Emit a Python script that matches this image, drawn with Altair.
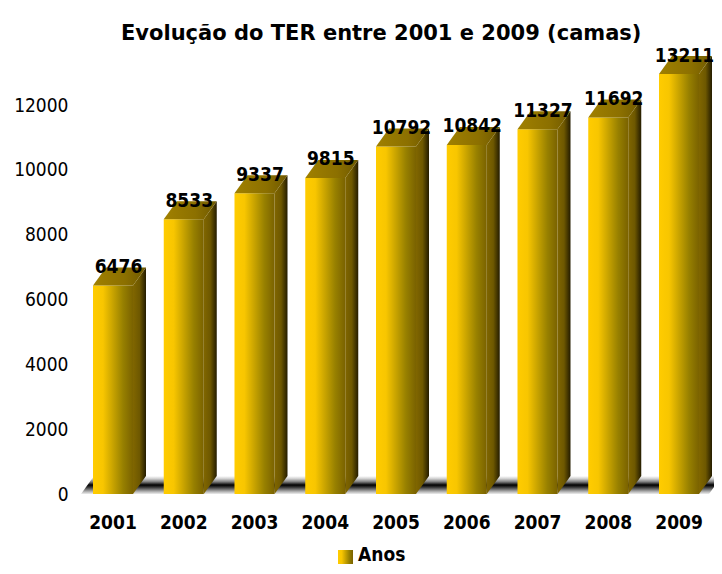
import altair as alt
import pandas as pd

years = ["2001", "2002", "2003", "2004", "2005", "2006", "2007", "2008", "2009"]
labels = [6476, 8533, 9337, 9815, 10792, 10842, 11327, 11692, 13211]
bar_heights = [6476, 8533, 9337, 9815, 10792, 10842, 11327, 11692, 13043]
y_ticks = [0, 2000, 4000, 6000, 8000, 10000, 12000]

FONT = "DejaVu Sans Condensed"
W, H = 706, 518
PX_X, PX_Y = 70.75, 0.0322
XD = [(8 - 93) / PX_X, (714 - 93) / PX_X]
YD = [(494 - 566) / PX_Y, (494 - 48) / PX_Y]
BW, DX, DY = 40 / PX_X, 13 / PX_X, 18 / PX_Y


def grad(stops, vertical=False):
    return alt.Gradient(
        gradient="linear",
        stops=[alt.GradientStop(color=c, offset=o) for o, c in stops],
        x1=0, y1=0, x2=0 if vertical else 1, y2=1 if vertical else 0,
    )


xs = alt.Scale(domain=XD, range=[0, W], nice=False, zero=False)
ys = alt.Scale(domain=YD, range=[H, 0], nice=False, zero=False)
X = lambda f: alt.X(f, type="quantitative", scale=xs, axis=None)
Y = lambda f: alt.Y(f, type="quantitative", scale=ys, axis=None)

front, side, top = [], [], []
for i, (yr, h) in enumerate(zip(years, bar_heights)):
    front.append(dict(year=yr, x=i, x2=i + BW, y=0, y2=h))
    side.append(dict(year=yr, x=i + BW, y=h, y2=0))
    side.append(dict(year=yr, x=i + BW + DX, y=h + DY, y2=DY))
    top.append(dict(year=yr, x=i, x2=i + BW, y=h))
    top.append(dict(year=yr, x=i + DX, x2=i + BW + DX, y=h + DY))
front, side, top = map(pd.DataFrame, (front, side, top))
text_df = pd.DataFrame(dict(
    x=[i + (BW + DX) / 2 - 1 / PX_X for i in range(9)],
    y=[h + 18.5 / PX_Y for h in bar_heights],
    label=[str(v) for v in labels],
))
floor_df = pd.DataFrame([
    dict(x=-12 / PX_X, x2=(709 - 93) / PX_X, y=0),
    dict(x=-12 / PX_X + DX, x2=(722 - 93) / PX_X, y=DY),
])

floor = alt.Chart(floor_df).mark_area(
    orient="horizontal",
    color=grad([(0, "#ffffff"), (0.15, "#d0d0d0"), (0.32, "#808080"), (0.5, "#000000"),
                (0.62, "#333333"), (0.85, "#aaaaaa"), (1, "#eeeeee")], vertical=True),
).encode(x=X("x"), x2="x2", y=Y("y"))

FRONT = [(0, "#ffcc00"), (0.25, "#f8c600"), (0.75, "#978000"), (1, "#7a6200")]
front_m = alt.Chart(front).mark_rect(color=grad(FRONT)).encode(x=X("x"), x2="x2", y=Y("y"), y2="y2")

side_m = alt.Chart(side).mark_area(
    orient="vertical",
    color=grad([(0, "#806600"), (0.5, "#6e5800"), (1, "#241c00")]),
).encode(x=X("x"), y=Y("y"), y2="y2", detail="year:N")

top_m = alt.Chart(top).mark_area(
    orient="horizontal",
    color=grad([(0, "#a08000"), (0.6, "#8c7000"), (1, "#6e5800")]),
).encode(x=X("x"), x2="x2", y=Y("y"), detail="year:N")

values = alt.Chart(text_df).mark_text(
    font=FONT, fontWeight="bold", fontSize=19, color="#000000", baseline="middle"
).encode(x=X("x"), y=Y("y"), text="label:N")

x_axis = alt.Chart(pd.DataFrame(dict(year=years))).mark_point(opacity=0).encode(
    x=alt.X("year:O", scale=alt.Scale(type="band", domain=years, range=[69.6, 706.4]),
            axis=alt.Axis(orient="bottom", title=None, domain=False, ticks=False, grid=False, labelAngle=0,
                          offset=-44, labelPadding=0, labelFont=FONT, labelFontWeight="bold",
                          labelFontSize=19, labelColor="#000000", labelBaseline="middle"))
)
y_axis = alt.Chart(pd.DataFrame(dict(v=y_ticks))).mark_point(opacity=0).encode(
    y=alt.Y("v:Q", scale=alt.Scale(domain=[0, 12000], range=[446, 57], nice=False),
            axis=alt.Axis(orient="left", title=None, domain=False, ticks=False, grid=False, values=y_ticks,
                          offset=-60, labelPadding=0, labelFont=FONT, labelFontSize=19,
                          labelColor="#000000", format="d"))
)

swatch = alt.Chart(pd.DataFrame([dict(x=(338 - 93) / PX_X, x2=(353 - 93) / PX_X, y=(494 - 564) / PX_Y, y2=(494 - 550) / PX_Y)])).mark_rect(
    color=grad(FRONT)
).encode(x=X("x"), x2="x2", y=Y("y"), y2="y2")
legend_text = alt.Chart(pd.DataFrame([dict(x=(358 - 93) / PX_X, y=(494 - 555) / PX_Y, t="Anos")])).mark_text(
    font=FONT, fontWeight="bold", fontSize=19, align="left", baseline="middle", color="#000000"
).encode(x=X("x"), y=Y("y"), text="t:N")

chart = alt.layer(floor, front_m, side_m, top_m, values, x_axis, y_axis, swatch, legend_text).resolve_scale(
    x="independent", y="independent"
).properties(
    width=W, height=H,
    padding={"left": 0, "top": 40, "right": 0, "bottom": 0},
    autosize=alt.AutoSizeParams(type="none"),
    title=alt.TitleParams("Evolução do TER entre 2001 e 2009 (camas)", font="DejaVu Sans", fontSize=21, fontWeight="bold",
                          color="#000000", anchor="start", dx=113, offset=-8, baseline="middle"),
).configure_view(stroke=None)

chart.save("out.html", embed_options={"renderer": "svg", "actions": False})
